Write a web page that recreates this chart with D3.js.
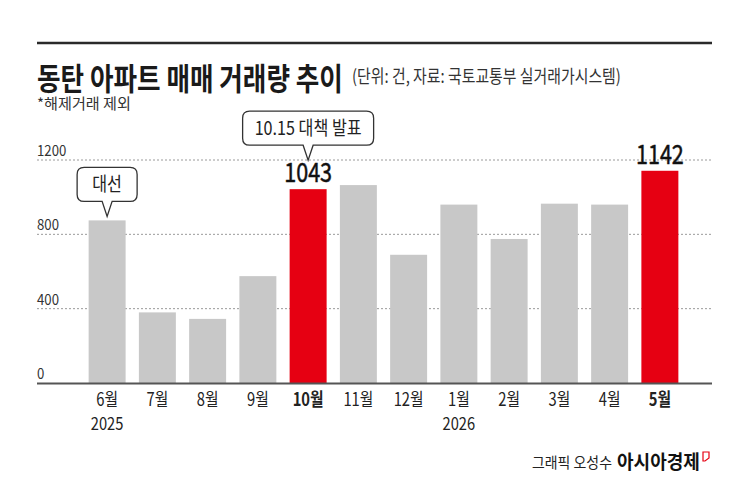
<!DOCTYPE html>
<html><head><meta charset="utf-8">
<script src="https://cdn.jsdelivr.net/npm/d3@7"></script>
<style>
html,body{margin:0;padding:0;background:#fff;}
text{font-family:"Noto Sans CJK KR","Noto Sans",sans-serif;}
</style></head>
<body><div id="chart"></div>
<script>
const months = ["6월","7월","8월","9월","10월","11월","12월","1월","2월","3월","4월","5월"];
const values = [875, 380, 345, 575, 1043, 1065, 690, 960, 775, 965, 960, 1142];
const highlight = ["10월","5월"];
const yearLabels = [{m:"6월", t:"2025"},{m:"1월", t:"2026"}];
const yTicks = [0, 400, 800, 1200];
const callouts = [{m:"6월", text:"대선", w:60, lift:4}, {m:"10월", text:"10.15 대책 발표", w:131, lift:29}];
const valueLabels = ["10월","5월"];
const title = "동탄 아파트 매매 거래량 추이";
const subtitle = "(단위: 건, 자료: 국토교통부 실거래가시스템)";
const note = "*해제거래 제외";

const W = 745, H = 487;
const svg = d3.select("#chart").append("svg").attr("width", W).attr("height", H);
svg.append("rect").attr("width", W).attr("height", H).attr("fill", "#fff");

function squeeze(sel, f, target) {
  sel.each(function () {
    const t = d3.select(this);
    const x0 = +t.attr("x") || 0, y0 = +t.attr("y") || 0;
    const k = target ? target / this.getComputedTextLength() : f;
    t.attr("x", 0).attr("y", 0).attr("transform", `translate(${x0},${y0}) scale(${k},1)`);
  });
}

const left = 37, right = 712;
const x = d3.scaleBand().domain(months).range([82, 685]).paddingInner(0.264).paddingOuter(0.132);
const y = d3.scaleLinear().domain([0, 1200]).range([383, 160]);

svg.append("line").attr("x1", left).attr("x2", right).attr("y1", 43).attr("y2", 43)
  .attr("stroke", "#2a2a2a").attr("stroke-width", 2.5);

svg.append("text").attr("x", left).attr("y", 90).text(title)
  .attr("font-size", 31).attr("font-weight", 700).attr("fill", "#1a1a1a")
  .call(squeeze, null, 306);
svg.append("text").attr("x", 352).attr("y", 83).text(subtitle)
  .attr("font-size", 18).attr("fill", "#333")
  .call(squeeze, null, 269);
svg.append("text").attr("x", left).attr("y", 108.5).text(note)
  .attr("font-size", 14.5).attr("fill", "#333")
  .call(squeeze, null, 94);

const g = svg.append("g");
g.selectAll("line.grid").data(yTicks.filter(d => d > 0)).join("line")
  .attr("class", "grid").attr("x1", left).attr("x2", right)
  .attr("y1", d => y(d)).attr("y2", d => y(d))
  .attr("stroke", "#9a9a9a").attr("stroke-width", 1).attr("stroke-dasharray", "2,2");
g.selectAll("text.yl").data(yTicks).join("text")
  .attr("class", "yl").attr("x", left).attr("y", d => y(d) - 4)
  .text(d => d).attr("font-size", 15).attr("fill", "#333")
  .call(squeeze, 0.88);

svg.append("g").selectAll("rect").data(months).join("rect")
  .attr("x", d => x(d)).attr("width", x.bandwidth())
  .attr("y", (d, i) => y(values[i])).attr("height", (d, i) => y(0) - y(values[i]))
  .attr("fill", d => highlight.includes(d) ? "#e60012" : "#c8c8c8");

svg.append("line").attr("x1", left).attr("x2", right).attr("y1", y(0) + 0.5).attr("y2", y(0) + 0.5)
  .attr("stroke", "#555").attr("stroke-width", 2);

const xAxis = d3.axisBottom(x).tickSize(0).tickPadding(0);
const xg = svg.append("g").attr("transform", `translate(0,${y(0) + 23})`).call(xAxis);
xg.select(".domain").remove();
xg.selectAll(".tick text")
  .attr("y", 0).attr("dy", null)
  .style("font-family", '"Noto Sans CJK KR",sans-serif')
  .attr("font-size", 18).attr("fill", "#222")
  .attr("font-weight", d => highlight.includes(d) ? 700 : 400)
  .attr("transform", "scale(0.82,1)");

svg.append("g").selectAll("text").data(yearLabels).join("text")
  .attr("x", d => x(d.m) + x.bandwidth() / 2).attr("y", 430)
  .attr("text-anchor", "middle").text(d => d.t)
  .attr("font-size", 17.5).attr("fill", "#222")
  .call(squeeze, 0.84);

svg.append("g").selectAll("text").data(valueLabels).join("text")
  .attr("x", d => x(d) + x.bandwidth() / 2)
  .attr("y", d => y(values[months.indexOf(d)]) - 7)
  .attr("text-anchor", "middle").text(d => values[months.indexOf(d)])
  .attr("font-size", 27).attr("font-weight", 400).attr("fill", "#111")
  .attr("stroke", "#111").attr("stroke-width", 0.5)
  .call(squeeze, 0.8);

const bh = 34, r = 7, tw = 5, tailH = 15;
const cg = svg.append("g").selectAll("g").data(callouts).join("g");
cg.append("path").attr("d", d => {
  const cx = x(d.m) + x.bandwidth() / 2;
  const tip = y(values[months.indexOf(d.m)]) - d.lift;
  const b = tip - tailH, t = b - bh, l = cx - d.w / 2, rr = cx + d.w / 2;
  return `M${l + r},${t} H${rr - r} Q${rr},${t} ${rr},${t + r} V${b - r} Q${rr},${b} ${rr - r},${b}
    H${cx + tw} L${cx},${tip} L${cx - tw},${b} H${l + r} Q${l},${b} ${l},${b - r} V${t + r} Q${l},${t} ${l + r},${t} Z`;
}).attr("fill", "#fff").attr("stroke", "#333").attr("stroke-width", 1.3);
cg.append("text")
  .attr("x", d => x(d.m) + x.bandwidth() / 2)
  .attr("y", d => y(values[months.indexOf(d.m)]) - d.lift - tailH - bh / 2 + 7)
  .attr("text-anchor", "middle").text(d => d.text)
  .attr("font-size", 19).attr("fill", "#222")
  .call(squeeze, 0.85);

svg.append("text").attr("x", 532).attr("y", 468).text("그래픽 오성수")
  .attr("font-size", 15).attr("fill", "#222")
  .call(squeeze, null, 80);
svg.append("text").attr("x", 617).attr("y", 469).text("아시아경제")
  .attr("font-size", 19).attr("font-weight", 700).attr("fill", "#111")
  .call(squeeze, null, 83);
svg.append("path").attr("d", "M703,452 H709 V458 L705,461 H703 Z")
  .attr("fill", "none").attr("stroke", "#e60012").attr("stroke-width", 1.2);
</script></body></html>
